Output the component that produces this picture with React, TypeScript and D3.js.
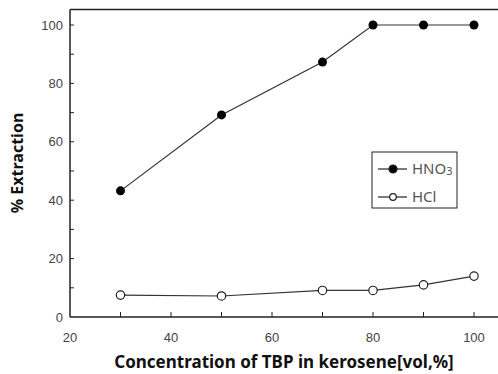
import React, { useEffect, useRef } from 'react';
import * as d3 from 'd3';

// TBP concentration in kerosene (vol %)
const concentrations = [30, 50, 70, 80, 90, 100];
// % extraction
const hno3Values = [43.2, 69.2, 87.3, 100, 100, 100];
const hclValues = [7.5, 7.2, 9.1, 9.1, 11, 14];

const xTicks = [20, 40, 60, 80, 100];
const yTicks = [0, 20, 40, 60, 80, 100];

const App = () => {
  const svgRef = useRef<SVGSVGElement>(null);

  useEffect(() => {
    const width = 498;
    const height = 374;
    const svg = d3.select(svgRef.current);
    svg.selectAll('*').remove();
    svg.attr('width', width).attr('height', height);

    const x = d3.scaleLinear().domain([20, 100]).range([70, 474]);
    const y = d3.scaleLinear().domain([0, 100]).range([317, 25]);
    const top = 9.5;

    const ink = '#222';
    const tickFont = '"Liberation Sans", Arial, sans-serif';
    const labelFont = '"Noto Sans", "Open Sans", sans-serif';

    // axis frame: left, bottom and top lines (figure cut at right edge)
    svg.append('line').attr('x1', 70).attr('x2', 70).attr('y1', top).attr('y2', y(0))
      .attr('stroke', ink).attr('stroke-width', 1.5);
    svg.append('line').attr('x1', 70).attr('x2', width).attr('y1', y(0)).attr('y2', y(0))
      .attr('stroke', ink).attr('stroke-width', 1.5);
    svg.append('line').attr('x1', 70).attr('x2', width).attr('y1', top).attr('y2', top)
      .attr('stroke', ink).attr('stroke-width', 1.5);

    // inward ticks every 10
    d3.range(30, 101, 10).forEach(v => {
      svg.append('line').attr('x1', x(v)).attr('x2', x(v)).attr('y1', y(0)).attr('y2', y(0) - 5)
        .attr('stroke', ink).attr('stroke-width', 1);
    });
    d3.range(10, 101, 10).forEach(v => {
      svg.append('line').attr('x1', 70).attr('x2', 74).attr('y1', y(v)).attr('y2', y(v))
        .attr('stroke', ink).attr('stroke-width', 1);
    });

    xTicks.forEach(v => {
      svg.append('text').attr('x', x(v)).attr('y', 342)
        .attr('text-anchor', 'middle').attr('font-family', tickFont).attr('font-size', 13)
        .attr('fill', '#444').text(v);
    });
    yTicks.forEach(v => {
      svg.append('text').attr('x', 63).attr('y', y(v)).attr('dy', '0.35em')
        .attr('text-anchor', 'end').attr('font-family', tickFont).attr('font-size', 13)
        .attr('fill', '#444').text(v);
    });

    // axis labels
    svg.append('text').attr('x', 284).attr('y', 368).attr('text-anchor', 'middle')
      .attr('font-family', labelFont).attr('font-weight', 'bold').attr('font-size', 17)
      .attr('fill', '#111').text('Concentration of TBP in kerosene[vol,%]');
    svg.append('text').attr('transform', 'translate(23, 163) rotate(-90)')
      .attr('text-anchor', 'middle')
      .attr('font-family', labelFont).attr('font-weight', 'bold').attr('font-size', 16)
      .attr('fill', '#111').text('% Extraction');

    const line = d3.line<number>()
      .x((_, i) => x(concentrations[i]))
      .y(d => y(d));

    // HNO3 series
    svg.append('path').datum(hno3Values).attr('d', line)
      .attr('fill', 'none').attr('stroke', '#333').attr('stroke-width', 1.2);
    svg.selectAll('.hno3').data(hno3Values).enter().append('circle')
      .attr('class', 'hno3')
      .attr('cx', (_, i) => x(concentrations[i])).attr('cy', d => y(d))
      .attr('r', 4.5).attr('fill', '#000');

    // HCl series
    svg.append('path').datum(hclValues).attr('d', line)
      .attr('fill', 'none').attr('stroke', '#333').attr('stroke-width', 1.2);
    svg.selectAll('.hcl').data(hclValues).enter().append('circle')
      .attr('class', 'hcl')
      .attr('cx', (_, i) => x(concentrations[i])).attr('cy', d => y(d))
      .attr('r', 4.2).attr('fill', '#fff').attr('stroke', '#222').attr('stroke-width', 1.2);

    // legend
    const legend = svg.append('g').attr('transform', 'translate(372, 152)');
    legend.append('rect').attr('width', 85).attr('height', 56)
      .attr('fill', '#fff').attr('stroke', '#222').attr('stroke-width', 1);

    const rows = [
      { key: 'HNO', sub: '3', filled: true, yPos: 17 },
      { key: 'HCl', sub: '', filled: false, yPos: 45 },
    ];
    rows.forEach(r => {
      legend.append('line').attr('x1', 6).attr('x2', 35).attr('y1', r.yPos).attr('y2', r.yPos)
        .attr('stroke', '#222').attr('stroke-width', 1.2);
      legend.append('circle').attr('cx', 21).attr('cy', r.yPos)
        .attr('r', r.filled ? 4 : 3.3)
        .attr('fill', r.filled ? '#000' : '#fff')
        .attr('stroke', '#222').attr('stroke-width', 1.2);
      const t = legend.append('text').attr('x', 40).attr('y', r.yPos).attr('dy', '0.35em')
        .attr('font-family', labelFont).attr('font-size', 15).attr('fill', '#555');
      t.append('tspan').text(r.key);
      if (r.sub) t.append('tspan').attr('font-size', 11).attr('dy', '0.1em').text(r.sub);
    });
  }, []);

  return (
    <div style={{ position: 'absolute', left: 0, top: 0 }}>
      <svg ref={svgRef}></svg>
    </div>
  );
};

export default App;
